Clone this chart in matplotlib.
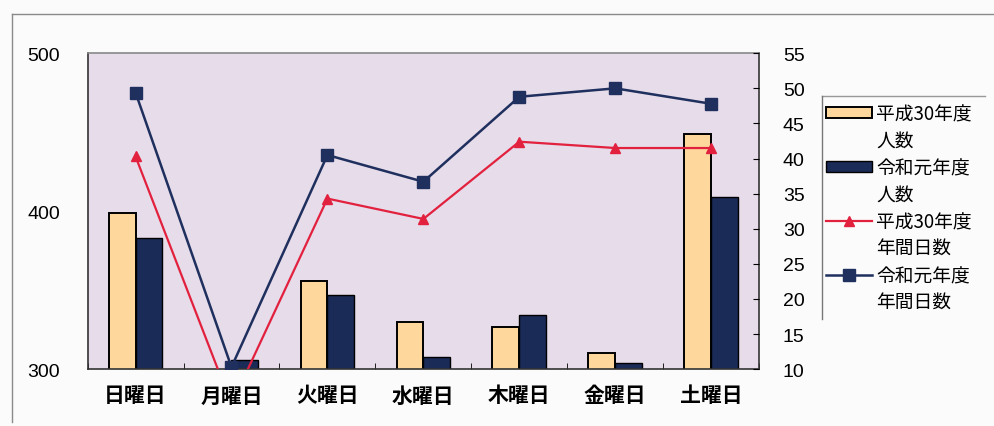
import numpy as np
import matplotlib.pyplot as plt
from matplotlib.lines import Line2D

# 曜日ごとのデータ
days = ['日曜日', '月曜日', '火曜日', '水曜日', '木曜日', '金曜日', '土曜日']
h30_people = [399, 297, 356, 330, 327, 310, 449]   # 平成30年度 人数
r1_people = [383, 306, 347, 308, 334, 304, 409]    # 令和元年度 人数
h30_days = [40.3, 5.0, 34.3, 31.4, 42.4, 41.5, 41.5]   # 平成30年度 年間日数
r1_days = [49.4, 10.3, 40.5, 36.7, 48.8, 50.0, 47.8]   # 令和元年度 年間日数

plt.rcParams['font.family'] = ['Noto Sans CJK JP', 'DejaVu Sans']

yellow = '#fdd79c'
navy = '#1b2b58'
red = '#e2213f'
navy_line = '#1f2f5e'

fig = plt.figure(figsize=(9.95, 4.27), dpi=100, facecolor='#fbfbfb')
ax = fig.add_axes([0.088, 0.133, 0.675, 0.74])
ax.set_facecolor('#e7dcea')

x = np.arange(len(days))
w = 0.28
b1 = ax.bar(x - w / 2, h30_people, w, color=yellow, edgecolor='black', linewidth=1.4)
b2 = ax.bar(x + w / 2, r1_people, w, color=navy, edgecolor='black', linewidth=1.0)

ax.set_ylim(300, 500)
ax.set_yticks([300, 400, 500])
ax.set_xlim(-0.5, len(days) - 0.5)
ax.set_xticks(x)
ax.set_xticklabels(days, fontsize=15, fontweight='bold')
ax.set_xticks(np.arange(-0.5, len(days)), minor=True)
ax.tick_params(axis='x', which='major', length=0, pad=11)
ax.tick_params(axis='x', which='minor', direction='in', length=4)
ax.tick_params(axis='y', length=0, pad=20, labelsize=14, labelfontfamily='Liberation Sans')

for s in ax.spines.values():
    s.set_color('#333333')
    s.set_linewidth(1.2)
ax.spines['top'].set_color('#888888')

# 右軸（年間日数）
ax2 = ax.twinx()
ax2.patch.set_visible(False)
l1, = ax2.plot(x, h30_days, color=red, lw=1.6, marker='^', markersize=7)
l2, = ax2.plot(x, r1_days, color=navy_line, lw=1.8, marker='s', markersize=9)
ax2.set_ylim(10, 55)
ax2.set_yticks(np.arange(10, 56, 5))
ax2.tick_params(axis='y', direction='in', length=4, pad=17, labelsize=14,
                labelfontfamily='Liberation Sans')
for s in ax2.spines.values():
    s.set_visible(False)

# 凡例（2行目は記号なし）
blank = Line2D([], [], linestyle='none')
handles = [b1, blank, b2, blank, l1, blank, l2, blank]
labels = ['平成30年度', '人数', '令和元年度', '人数',
          '平成30年度', '年間日数', '令和元年度', '年間日数']
leg = fig.legend(handles, labels, loc='upper left',
                 bbox_to_anchor=(0.826, 0.765), frameon=False, fontsize=13.5,
                 handlelength=2.5, handleheight=0.55, handletextpad=0.2,
                 labelspacing=0.32, borderpad=0.2, borderaxespad=0)

# 凡例の枠線（上と左のみ）
fig.add_artist(Line2D([0.826, 0.99], [0.773, 0.773], transform=fig.transFigure,
                      color='#999999', lw=1))
fig.add_artist(Line2D([0.826, 0.826], [0.773, 0.25], transform=fig.transFigure,
                      color='#777777', lw=1))

# 外枠
fig.add_artist(Line2D([0.012, 1.0], [0.966, 0.966], transform=fig.transFigure,
                      color='#8a8a8a', lw=1))
fig.add_artist(Line2D([0.012, 0.012], [0.966, 0.01], transform=fig.transFigure,
                      color='#8a8a8a', lw=1))

fig.savefig('out.png', dpi=100, facecolor=fig.get_facecolor())
